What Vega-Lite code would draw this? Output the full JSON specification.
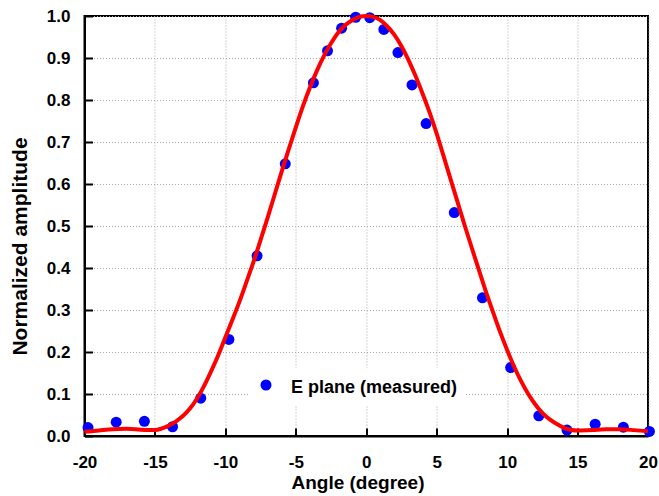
{
  "$schema": "https://vega.github.io/schema/vega-lite/v6.json",
  "width": 563.5,
  "height": 420,
  "autosize": "none",
  "padding": {"left": 84.5, "top": 16, "right": 11, "bottom": 60},
  "background": "white",
  "config": {
    "view": {"stroke": "black", "strokeWidth": 2},
    "font": "Liberation Sans"
  },
  "datasets": {
    "measured": [
      {"angle": -19.75, "amp": 0.020, "series": "E plane (measured)"},
      {"angle": -17.75, "amp": 0.033, "series": "E plane (measured)"},
      {"angle": -15.75, "amp": 0.035, "series": "E plane (measured)"},
      {"angle": -13.75, "amp": 0.022, "series": "E plane (measured)"},
      {"angle": -11.75, "amp": 0.090, "series": "E plane (measured)"},
      {"angle": -9.75, "amp": 0.230, "series": "E plane (measured)"},
      {"angle": -7.75, "amp": 0.429, "series": "E plane (measured)"},
      {"angle": -5.75, "amp": 0.648, "series": "E plane (measured)"},
      {"angle": -3.75, "amp": 0.841, "series": "E plane (measured)"},
      {"angle": -2.75, "amp": 0.917, "series": "E plane (measured)"},
      {"angle": -1.75, "amp": 0.971, "series": "E plane (measured)"},
      {"angle": -0.75, "amp": 0.997, "series": "E plane (measured)"},
      {"angle": 0.25, "amp": 0.996, "series": "E plane (measured)"},
      {"angle": 1.25, "amp": 0.968, "series": "E plane (measured)"},
      {"angle": 2.25, "amp": 0.913, "series": "E plane (measured)"},
      {"angle": 3.25, "amp": 0.836, "series": "E plane (measured)"},
      {"angle": 4.25, "amp": 0.744, "series": "E plane (measured)"},
      {"angle": 6.25, "amp": 0.532, "series": "E plane (measured)"},
      {"angle": 8.25, "amp": 0.329, "series": "E plane (measured)"},
      {"angle": 10.25, "amp": 0.163, "series": "E plane (measured)"},
      {"angle": 12.25, "amp": 0.048, "series": "E plane (measured)"},
      {"angle": 14.25, "amp": 0.014, "series": "E plane (measured)"},
      {"angle": 16.25, "amp": 0.028, "series": "E plane (measured)"},
      {"angle": 18.25, "amp": 0.021, "series": "E plane (measured)"},
      {"angle": 20.1, "amp": 0.011, "series": "E plane (measured)"}
    ],
    "simulated": [
      {"angle": -20, "amp": 0.010, "series": "E plane (simulated)"},
      {"angle": -19, "amp": 0.013, "series": "E plane (simulated)"},
      {"angle": -18, "amp": 0.016, "series": "E plane (simulated)"},
      {"angle": -17, "amp": 0.017, "series": "E plane (simulated)"},
      {"angle": -16, "amp": 0.015, "series": "E plane (simulated)"},
      {"angle": -15, "amp": 0.014, "series": "E plane (simulated)"},
      {"angle": -14.5, "amp": 0.018, "series": "E plane (simulated)"},
      {"angle": -14, "amp": 0.025, "series": "E plane (simulated)"},
      {"angle": -13.5, "amp": 0.035, "series": "E plane (simulated)"},
      {"angle": -13, "amp": 0.048, "series": "E plane (simulated)"},
      {"angle": -12.5, "amp": 0.066, "series": "E plane (simulated)"},
      {"angle": -12, "amp": 0.090, "series": "E plane (simulated)"},
      {"angle": -11.5, "amp": 0.120, "series": "E plane (simulated)"},
      {"angle": -11, "amp": 0.155, "series": "E plane (simulated)"},
      {"angle": -10.5, "amp": 0.193, "series": "E plane (simulated)"},
      {"angle": -10, "amp": 0.235, "series": "E plane (simulated)"},
      {"angle": -9.5, "amp": 0.277, "series": "E plane (simulated)"},
      {"angle": -9, "amp": 0.320, "series": "E plane (simulated)"},
      {"angle": -8.5, "amp": 0.367, "series": "E plane (simulated)"},
      {"angle": -8, "amp": 0.415, "series": "E plane (simulated)"},
      {"angle": -7.5, "amp": 0.467, "series": "E plane (simulated)"},
      {"angle": -7, "amp": 0.520, "series": "E plane (simulated)"},
      {"angle": -6.5, "amp": 0.575, "series": "E plane (simulated)"},
      {"angle": -6, "amp": 0.630, "series": "E plane (simulated)"},
      {"angle": -5.5, "amp": 0.683, "series": "E plane (simulated)"},
      {"angle": -5, "amp": 0.735, "series": "E plane (simulated)"},
      {"angle": -4.5, "amp": 0.785, "series": "E plane (simulated)"},
      {"angle": -4, "amp": 0.830, "series": "E plane (simulated)"},
      {"angle": -3.5, "amp": 0.870, "series": "E plane (simulated)"},
      {"angle": -3, "amp": 0.905, "series": "E plane (simulated)"},
      {"angle": -2.5, "amp": 0.935, "series": "E plane (simulated)"},
      {"angle": -2, "amp": 0.960, "series": "E plane (simulated)"},
      {"angle": -1.5, "amp": 0.978, "series": "E plane (simulated)"},
      {"angle": -1, "amp": 0.990, "series": "E plane (simulated)"},
      {"angle": -0.5, "amp": 0.998, "series": "E plane (simulated)"},
      {"angle": 0, "amp": 1.000, "series": "E plane (simulated)"},
      {"angle": 0.5, "amp": 0.998, "series": "E plane (simulated)"},
      {"angle": 1, "amp": 0.990, "series": "E plane (simulated)"},
      {"angle": 1.5, "amp": 0.975, "series": "E plane (simulated)"},
      {"angle": 2, "amp": 0.955, "series": "E plane (simulated)"},
      {"angle": 2.5, "amp": 0.928, "series": "E plane (simulated)"},
      {"angle": 3, "amp": 0.895, "series": "E plane (simulated)"},
      {"angle": 3.5, "amp": 0.857, "series": "E plane (simulated)"},
      {"angle": 4, "amp": 0.815, "series": "E plane (simulated)"},
      {"angle": 4.5, "amp": 0.770, "series": "E plane (simulated)"},
      {"angle": 5, "amp": 0.720, "series": "E plane (simulated)"},
      {"angle": 5.5, "amp": 0.665, "series": "E plane (simulated)"},
      {"angle": 6, "amp": 0.610, "series": "E plane (simulated)"},
      {"angle": 6.5, "amp": 0.555, "series": "E plane (simulated)"},
      {"angle": 7, "amp": 0.500, "series": "E plane (simulated)"},
      {"angle": 7.5, "amp": 0.447, "series": "E plane (simulated)"},
      {"angle": 8, "amp": 0.395, "series": "E plane (simulated)"},
      {"angle": 8.5, "amp": 0.343, "series": "E plane (simulated)"},
      {"angle": 9, "amp": 0.295, "series": "E plane (simulated)"},
      {"angle": 9.5, "amp": 0.248, "series": "E plane (simulated)"},
      {"angle": 10, "amp": 0.205, "series": "E plane (simulated)"},
      {"angle": 10.5, "amp": 0.165, "series": "E plane (simulated)"},
      {"angle": 11, "amp": 0.130, "series": "E plane (simulated)"},
      {"angle": 11.5, "amp": 0.100, "series": "E plane (simulated)"},
      {"angle": 12, "amp": 0.075, "series": "E plane (simulated)"},
      {"angle": 12.5, "amp": 0.055, "series": "E plane (simulated)"},
      {"angle": 13, "amp": 0.040, "series": "E plane (simulated)"},
      {"angle": 13.5, "amp": 0.029, "series": "E plane (simulated)"},
      {"angle": 14, "amp": 0.020, "series": "E plane (simulated)"},
      {"angle": 14.5, "amp": 0.015, "series": "E plane (simulated)"},
      {"angle": 15, "amp": 0.013, "series": "E plane (simulated)"},
      {"angle": 16, "amp": 0.014, "series": "E plane (simulated)"},
      {"angle": 17, "amp": 0.016, "series": "E plane (simulated)"},
      {"angle": 18, "amp": 0.016, "series": "E plane (simulated)"},
      {"angle": 19, "amp": 0.014, "series": "E plane (simulated)"},
      {"angle": 20, "amp": 0.011, "series": "E plane (simulated)"}
    ]
  },
  "layer": [
    {
      "data": {"name": "measured"},
      "mark": {"type": "circle", "size": 121, "opacity": 1},
      "encoding": {
        "x": {
          "field": "angle", "type": "quantitative",
          "scale": {"domain": [-20, 20], "nice": false, "zero": false},
          "axis": {
            "orient": "bottom", "values": [-20, -15, -10, -5, 0, 5, 10, 15, 20],
            "labelExpr": "replace(datum.label, '\u2212', '-')",
            "domainColor": "black", "domainWidth": 2,
            "tickColor": "black", "tickWidth": 2, "tickSize": -8,
            "grid": true, "gridColor": "#a8a8a8", "gridDash": [1, 2], "gridWidth": 1,
            "labelFont": "Liberation Sans", "labelFontSize": 17, "labelFontWeight": "bold", "labelColor": "black",
            "labelFlush": false, "labelOverlap": false,
            "labelPadding": 26, "labelBaseline": "top",
            "title": "Angle (degree)", "titleFont": "Liberation Sans", "titleFontWeight": "bold", "titleColor": "black",
            "titleFontSize": 19,
            "titleX": 273, "titleY": 52.3, "titleBaseline": "alphabetic", "titleAlign": "center"
          }
        },
        "y": {
          "field": "amp", "type": "quantitative",
          "scale": {"domain": [0, 1], "nice": false, "zero": false},
          "axis": {
            "orient": "left", "values": [0, 0.1, 0.2, 0.3, 0.4, 0.5, 0.6, 0.7, 0.8, 0.9, 1.0], "format": ".1f",
            "domainColor": "black", "domainWidth": 2,
            "tickColor": "black", "tickWidth": 2, "tickSize": -8,
            "grid": true, "gridColor": "#a8a8a8", "gridDash": [1, 2], "gridWidth": 1,
            "labelFont": "Liberation Sans", "labelFontSize": 17, "labelFontWeight": "bold", "labelColor": "black",
            "labelFlush": false, "labelOverlap": false,
            "labelPadding": 22.5, "labelAlign": "right", "labelBaseline": "middle",
            "title": "Normalized amplitude", "titleFont": "Liberation Sans", "titleFontWeight": "bold", "titleColor": "black",
            "titleFontSize": 21, "titleAngle": -90,
            "titleX": -58.5, "titleY": 230, "titleBaseline": "alphabetic", "titleAlign": "center"
          }
        },
        "color": {
          "field": "series", "type": "nominal",
          "scale": {"domain": ["E plane (measured)"], "range": ["#0000ff"]},
          "legend": {
            "orient": "none", "legendX": 164.5, "legendY": 352, "title": null,
            "fillColor": "white", "padding": 8, "symbolType": "circle", "symbolSize": 121,
            "symbolOpacity": 1, "symbolStrokeWidth": 0, "labelOffset": 16,
            "labelFont": "Liberation Sans", "labelFontSize": 18, "labelFontWeight": "bold",
            "labelColor": "black", "labelLimit": 400,
            "encode": {"labels": {"update": {"dy": {"value": 3}}}}
          }
        }
      }
    },
    {
      "data": {"name": "simulated"},
      "mark": {"type": "line", "strokeWidth": 4, "interpolate": "monotone", "color": "#ff0000"},
      "encoding": {
        "x": {"field": "angle", "type": "quantitative"},
        "y": {"field": "amp", "type": "quantitative"}
      }
    }
  ]
}
